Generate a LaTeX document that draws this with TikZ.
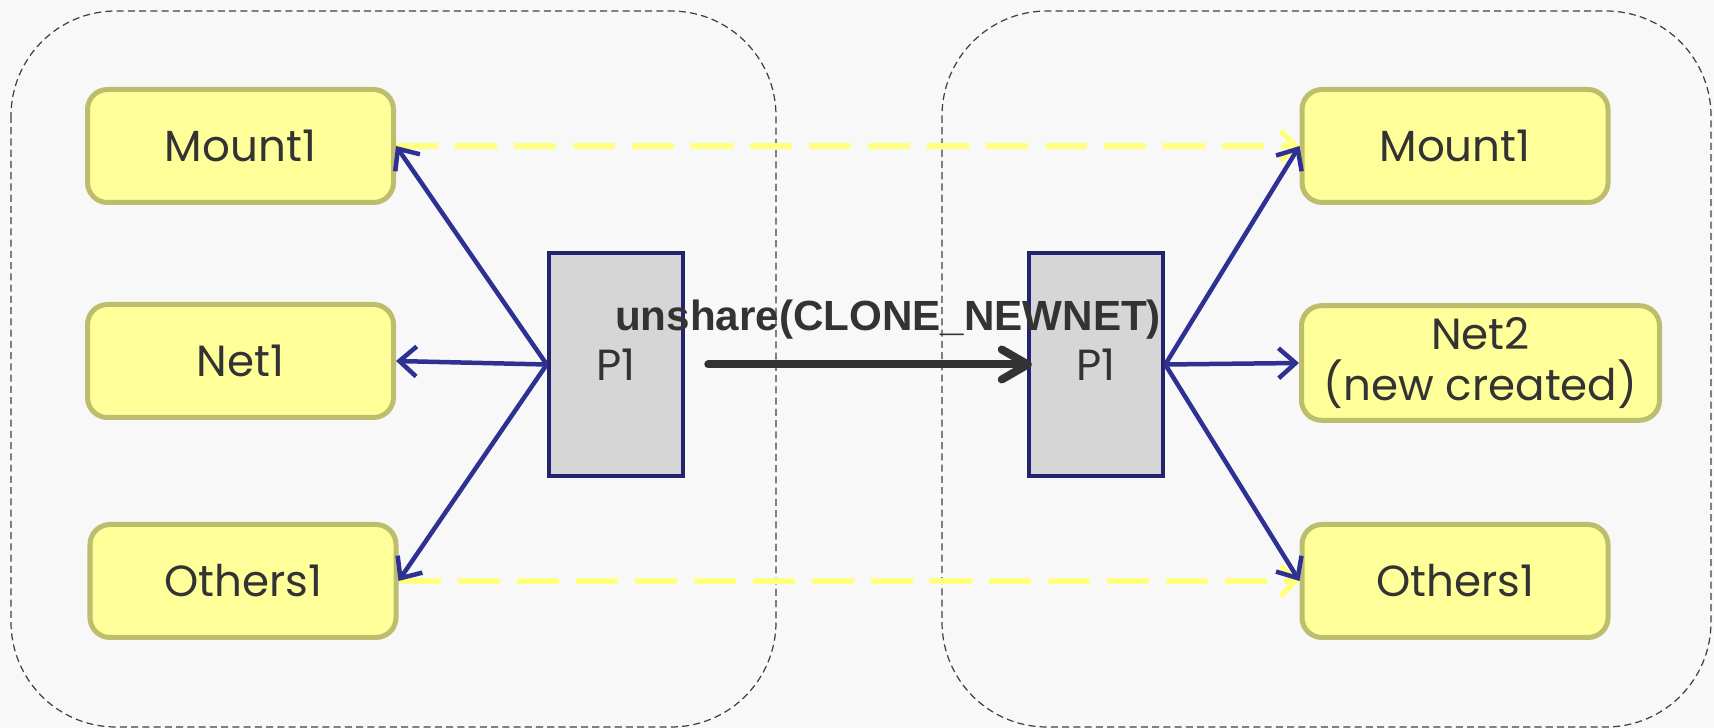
\documentclass[tikz,border=0pt]{standalone}
\usepackage{fontspec}
\setmainfont{Poppins}
\newfontfamily\callfont{Liberation Sans}
\usetikzlibrary{arrows.meta}
\definecolor{nsbg}{HTML}{F8F8F8}
\definecolor{nsyellow}{HTML}{FFFF99}
\definecolor{nsolive}{HTML}{BDBD6E}
\definecolor{nsdash}{HTML}{FFFF80}
\definecolor{nsblue}{HTML}{2E3192}
\definecolor{nsnavy}{HTML}{24246E}
\definecolor{nsgray}{HTML}{D6D6D6}
\definecolor{nstext}{HTML}{333333}

\begin{document}
\begin{tikzpicture}[
  font=\fontsize{12.4}{14.5}\selectfont, text=nstext,
  frame/.style={draw=black!75, dash pattern=on 2pt off 1.2pt, line width=0.35pt,
                rounded corners=1.05cm},
  res/.style={rectangle, rounded corners=0.2cm, draw=nsolive, fill=nsyellow,
              line width=0.05cm, minimum width=3.06cm, minimum height=1.13cm, align=center},
  proc/.style={rectangle, draw=nsnavy, fill=nsgray, line width=0.045cm,
               minimum width=1.34cm, minimum height=2.23cm},
  ref/.style={-{Straight Barb[length=0.17cm, width=0.3cm]}, draw=nsblue,
              line width=0.045cm},
  keep/.style={-{Straight Barb[length=0.15cm, width=0.3cm]}, draw=nsdash,
               line width=0.055cm, dash pattern=on 0.42cm off 0.17cm},
  call/.style={-{Straight Barb[length=0.26cm, width=0.3cm, line cap=round, line join=round]},
               draw=nstext, line width=0.08cm, line cap=round}]

\useasboundingbox[fill=nsbg] (0,0) rectangle (17.14,-7.28);

% ---- namespaces before / after ---------------------------------------
\draw[frame] (0.11,-0.11) rectangle (7.76,-7.27);
\draw[frame] (9.42,-0.11) rectangle (17.11,-7.27);

% ---- before: P1 and its namespaces -----------------------------------
\node[res] (mountL) at (2.405,-1.46) {Mount1};
\node[res] (netL)   at (2.405,-3.61) {Net1};
\node[res] (othL)   at (2.43,-5.81)  {Others1};
\node[proc] (pL)    at (6.16,-3.645) {P1};

% ---- after: P1 and its namespaces ------------------------------------
\node[res] (mountR) at (14.55,-1.46) {Mount1};
\node[res, minimum width=3.58cm] (netR) at (14.805,-3.63) {Net2\\(new created)};
\node[res] (othR)   at (14.55,-5.81) {Others1};
\node[proc] (pR)    at (10.96,-3.645) {P1};

% ---- links -----------------------------------------------------------
\draw[keep] (mountL.east) -- (mountR.west);
\draw[keep] (othL.east) -- (othR.west);
\foreach \t in {mountL,netL,othL}
  \draw[ref] (pL.west) -- (\t.east);
\foreach \t in {mountR,netR,othR}
  \draw[ref] (pR.east) -- (\t.west);

\draw[call, shorten <=0.23cm, shorten >=-0.05cm] (pL.east) -- (pR.west);
\node[font=\callfont\bfseries\fontsize{12}{14}\selectfont] (call) at (8.88,-3.2)
  {unshare(CLONE\_NEWNET)};
\end{tikzpicture}
\end{document}
